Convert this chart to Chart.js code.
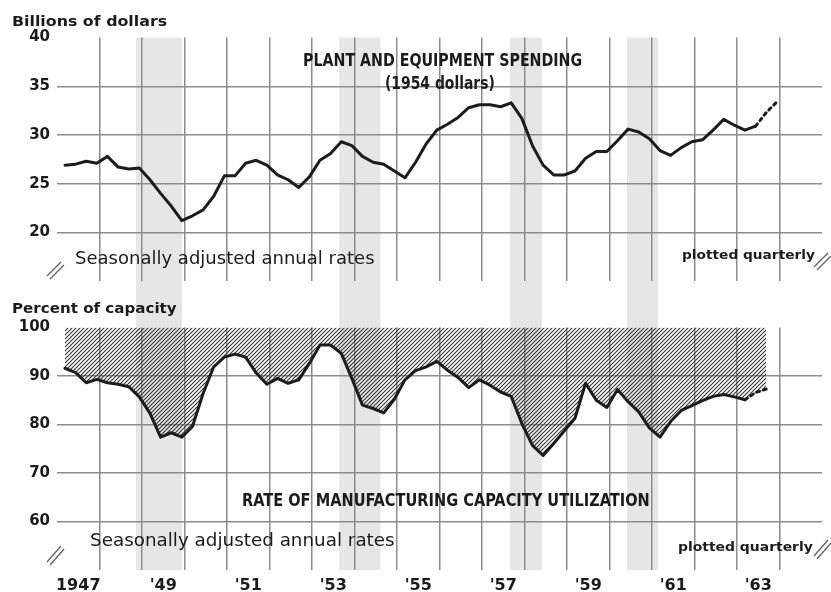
<!DOCTYPE html>
<html>
<head>
<meta charset="utf-8">
<script src="https://cdn.jsdelivr.net/npm/chart.js@4.4.0/dist/chart.umd.min.js"></script>
<style>
  html, body { margin: 0; padding: 0; background: #fff; }
  #wrap { position: relative; width: 831px; height: 592px; overflow: hidden; background: #fff; }
  canvas { position: absolute; left: 0; }
  #topChart { top: 0; }
  #bottomChart { top: 304px; }
  .ann { position: absolute; white-space: nowrap; color: #1b1b1b; transform-origin: left center; line-height: 20px; height: 20px; }
  .lbl { font-family: "DejaVu Sans", sans-serif; font-weight: bold; font-size: 14px; }
  .ttl { font-family: "Liberation Sans Narrow", "DejaVu Sans Condensed", "DejaVu Sans", sans-serif; font-weight: bold; font-size: 17px; }
  .note { font-family: "DejaVu Sans", sans-serif; font-size: 17px; }
  .pq { font-family: "DejaVu Sans", sans-serif; font-weight: bold; font-size: 13px; }
</style>
</head>
<body>
<div id="wrap">
  <canvas id="topChart" width="831" height="304"></canvas>
  <canvas id="bottomChart" width="831" height="288"></canvas>

  <div class="ann lbl" data-x="12" data-y="21" data-w="155">Billions of dollars</div>
  <div class="ann ttl" data-x="303" data-y="60" data-w="279">PLANT AND EQUIPMENT SPENDING</div>
  <div class="ann ttl" data-x="385" data-y="83" data-w="110">(1954 dollars)</div>
  <div class="ann note" data-x="75" data-y="258" data-w="300">Seasonally adjusted annual rates</div>
  <div class="ann pq" data-x="682" data-y="255" data-w="133">plotted quarterly</div>

  <div class="ann lbl" data-x="12" data-y="308" data-w="165">Percent of capacity</div>
  <div class="ann ttl" data-x="242" data-y="500" data-w="408">RATE OF MANUFACTURING CAPACITY UTILIZATION</div>
  <div class="ann note" data-x="90" data-y="540" data-w="305">Seasonally adjusted annual rates</div>
  <div class="ann pq" data-x="678" data-y="547" data-w="135">plotted quarterly</div>
</div>

<script>
// ==============================
// DATA (quarterly, 1947 Q1 onward)
// ==============================
const startYear = 1947;

// plant and equipment spending, billions of 1954 dollars
const spending = [
  26.9, 27.0, 27.3, 27.1,  27.8, 26.7, 26.5, 26.6,   // 1947-48
  25.4, 24.0, 22.7, 21.2,  21.7, 22.3, 23.7, 25.8,   // 1949-50
  25.8, 27.1, 27.4, 26.9,  25.9, 25.4, 24.6, 25.7,   // 1951-52
  27.4, 28.1, 29.3, 28.9,  27.8, 27.2, 27.0, 26.3,   // 1953-54
  25.6, 27.2, 29.1, 30.5,  31.1, 31.8, 32.8, 33.1,   // 1955-56
  33.1, 32.9, 33.3, 31.7,  28.9, 26.9, 25.9, 25.9,   // 1957-58
  26.3, 27.6, 28.3, 28.3,  29.4, 30.6, 30.3, 29.6,   // 1959-60
  28.4, 27.9, 28.7, 29.3,  29.5, 30.5, 31.6, 31.0,   // 1961-62
  30.5, 30.9, 32.3, 33.4                             // 1963
];
const spendingLastActual = 65; // points after this are anticipations (dotted)

// manufacturing capacity utilization, percent
const utilization = [
  91.6, 90.7, 88.6, 89.3,  88.6, 88.3, 87.8, 85.7,   // 1947-48
  82.3, 77.4, 78.3, 77.4,  79.6, 86.4, 91.9, 93.9,   // 1949-50
  94.5, 93.9, 90.6, 88.3,  89.5, 88.5, 89.2, 92.6,   // 1951-52
  96.4, 96.4, 94.7, 89.5,  84.0, 83.3, 82.4, 85.2,   // 1953-54
  89.2, 91.1, 91.9, 93.0,  91.2, 89.7, 87.6, 89.2,   // 1955-56
  88.1, 86.7, 85.8, 80.2,  75.7, 73.6, 76.1, 78.7,   // 1957-58
  81.3, 88.5, 85.0, 83.5,  87.2, 84.7, 82.6, 79.3,   // 1959-60
  77.4, 80.6, 82.9, 83.9,  84.9, 85.8, 86.2, 85.7,   // 1961-62
  85.1, 86.6, 87.3                                   // 1963
];
const utilizationLastActual = 64;

// recession periods (shaded), in decimal years
const recessions = [
  [1948.86, 1949.94],
  [1953.64, 1954.61],
  [1957.66, 1958.41],
  [1960.41, 1961.14]
];

// x axis labels
const labelYears = [1947, 1949, 1951, 1953, 1955, 1957, 1959, 1961, 1963];
const yearLabels = ['1947', "'49", "'51", "'53", "'55", "'57", "'59", "'61", "'63"];

// y axis ticks
const spendingTicks = [20, 25, 30, 35, 40];
const utilizationTicks = [60, 70, 80, 90, 100];

// ==============================
// STYLE
// ==============================
const GRID = '#8c8c8c';
const LINE = '#1c1c1c';
const BAND = '#e6e6e6';
const X_MIN = 1947, X_MAX = 1965;

function toPoints(values) {
  // quarterly points, placed a little past mid-quarter like the original plot
  return values.map((v, i) => ({ x: startYear + (i + 0.75) / 4, y: v }));
}

function makeHatch() {
  const c = document.createElement('canvas');
  c.width = 4; c.height = 4;
  const g = c.getContext('2d');
  g.strokeStyle = '#383838';
  g.lineWidth = 1.15;
  g.beginPath();
  g.moveTo(0, 4); g.lineTo(4, 0);
  g.moveTo(-1, 1); g.lineTo(1, -1);
  g.moveTo(3, 5); g.lineTo(5, 3);
  g.stroke();
  return g.createPattern(c, 'repeat');
}

// year gridlines + label positions (label sits in the middle of its year)
function xTicks() {
  const t = [];
  for (let y = X_MIN; y <= X_MAX; y++) t.push({ value: y });
  labelYears.forEach(y => t.push({ value: y + 0.5 }));
  return t.sort((a, b) => a.value - b.value);
}

function xGridColor(ctx) {
  const v = ctx.tick && ctx.tick.value;
  if (v === undefined) return 'transparent';
  if (Number.isInteger(v) && v > X_MIN && v < X_MAX) return GRID;
  return 'transparent';
}

// ==============================
// PLUGINS: recession bands, axis break marks
// ==============================
function bandsPlugin(fromTop) {
  return {
    id: 'bands',
    beforeDraw(chart) {
      const { ctx, chartArea, scales } = chart;
      ctx.save();
      ctx.fillStyle = BAND;
      recessions.forEach(([a, b]) => {
        const x1 = scales.x.getPixelForValue(a);
        const x2 = scales.x.getPixelForValue(b);
        const y1 = fromTop ? chartArea.top : 0;
        const y2 = fromTop ? chart.height : chartArea.bottom;
        ctx.fillRect(x1, y1, x2 - x1, y2 - y1);
      });
      ctx.restore();
    }
  };
}

function breakPlugin(marks) {
  return {
    id: 'breaks',
    afterDraw(chart) {
      const ctx = chart.ctx;
      ctx.save();
      ctx.strokeStyle = '#666';
      ctx.lineWidth = 1.4;
      marks.forEach(m => {
        ctx.beginPath();
        ctx.moveTo(m[0], m[1] + m[3]); ctx.lineTo(m[0] + m[2], m[1]);
        ctx.moveTo(m[0] + 3, m[1] + m[3] + 3); ctx.lineTo(m[0] + m[2] + 3, m[1] + 3);
        ctx.stroke();
      });
      ctx.restore();
    }
  };
}

function baseOptions(opts) {
  return {
    responsive: false,
    animation: false,
    events: [],
    layout: { padding: { left: 0, right: 9, top: opts.padTop, bottom: 0 } },
    plugins: { legend: { display: false }, tooltip: { enabled: false } },
    scales: {
      x: {
        type: 'linear',
        min: X_MIN,
        max: X_MAX,
        afterBuildTicks: s => { s.ticks = xTicks(); },
        afterFit: s => { s.height = opts.xHeight; },
        border: { display: false },
        grid: { color: xGridColor, lineWidth: 1.5, drawTicks: false },
        ticks: {
          display: opts.showX,
          autoSkip: false,
          maxRotation: 0,
          padding: 6,
          color: '#1b1b1b',
          font: { family: 'DejaVu Sans', weight: 'bold', size: 16 },
          callback: v => {
            const k = labelYears.indexOf(v - 0.5);
            return k >= 0 ? yearLabels[k] : '';
          }
        }
      },
      y: {
        min: opts.yMin,
        max: opts.yMax,
        afterBuildTicks: s => { s.ticks = [opts.yMin].concat(opts.yTicks).map(v => ({ value: v })); },
        afterFit: s => { s.width = 57; },
        border: { display: false },
        grid: {
          drawTicks: false,
          lineWidth: 1.5,
          color: c => (c.tick && c.tick.value > opts.yMin && c.tick.value < opts.yMax) ? GRID : 'transparent'
        },
        ticks: {
          padding: 7,
          color: '#1b1b1b',
          font: { family: 'DejaVu Sans', weight: 'bold', size: 15 },
          callback: v => (opts.yTicks.includes(v) ? String(v) : '')
        }
      }
    }
  };
}

// ==============================
// TOP CHART: PLANT AND EQUIPMENT SPENDING
// ==============================
new Chart(document.getElementById('topChart'), {
  type: 'line',
  data: {
    datasets: [{
      data: toPoints(spending),
      borderColor: LINE,
      borderWidth: 3,
      borderJoinStyle: 'round',
      borderCapStyle: 'round',
      pointRadius: 0,
      tension: 0,
      fill: false,
      segment: { borderDash: c => (c.p0DataIndex >= spendingLastActual ? [3, 4] : undefined) }
    }]
  },
  options: baseOptions({ padTop: 37.6, xHeight: 23, showX: false, yMin: 15, yMax: 40, yTicks: spendingTicks }),
  plugins: [bandsPlugin(true), breakPlugin([[47, 262, 14, 14], [814, 253, 14, 14]])]
});

// ==============================
// BOTTOM CHART: CAPACITY UTILIZATION
// ==============================
new Chart(document.getElementById('bottomChart'), {
  type: 'line',
  data: {
    datasets: [{
      data: toPoints(utilization),
      borderColor: LINE,
      borderWidth: 3,
      borderJoinStyle: 'round',
      borderCapStyle: 'round',
      pointRadius: 0,
      tension: 0,
      fill: { value: 100 },
      backgroundColor: makeHatch(),
      segment: { borderDash: c => (c.p0DataIndex >= utilizationLastActual ? [3, 4] : undefined) }
    }]
  },
  options: baseOptions({ padTop: 23.5, xHeight: 22, showX: true, yMin: 50, yMax: 100, yTicks: utilizationTicks }),
  plugins: [bandsPlugin(false), breakPlugin([[47, 242, 14, 16], [814, 236, 14, 16]])]
});

// ==============================
// TEXT LABELS: place and stretch to the measured widths
// ==============================
function placeLabels() {
  document.querySelectorAll('.ann').forEach(el => {
    const x = +el.dataset.x, y = +el.dataset.y, w = +el.dataset.w;
    el.style.left = x + 'px';
    el.style.top = (y - 10) + 'px';
    const real = el.scrollWidth || 1;
    el.style.transform = 'scaleX(' + (w / real).toFixed(3) + ')';
  });
}
placeLabels();
if (document.fonts && document.fonts.ready) document.fonts.ready.then(placeLabels);
</script>
</body>
</html>
